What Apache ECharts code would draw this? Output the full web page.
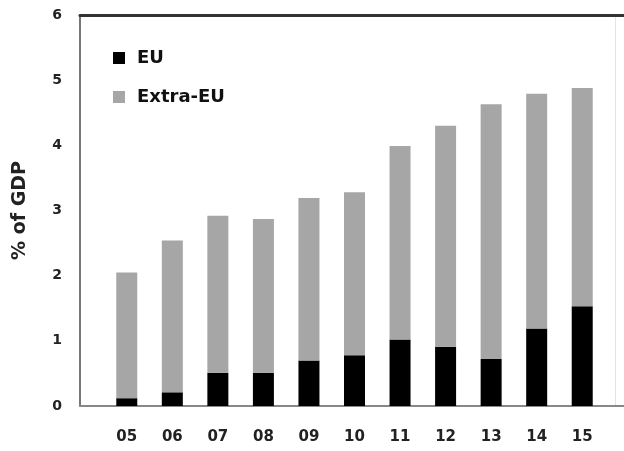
<!DOCTYPE html>
<html><head><meta charset="utf-8">
<script src="https://cdn.jsdelivr.net/npm/echarts@6/dist/echarts.min.js"></script>
<style>html,body{margin:0;padding:0;background:#fff}#c{width:624px;height:451px}</style>
</head><body><div id="c"></div>
<script>
const categories = ['05','06','07','08','09','10','11','12','13','14','15'];
const euValues = [0.12,0.21,0.51,0.51,0.70,0.78,1.02,0.91,0.72,1.19,1.53];
const extraEuValues = [1.93,2.33,2.41,2.36,2.49,2.50,2.97,3.39,3.91,3.60,3.35];
const yTicks = [0,1,2,3,4,5,6];

const font = 'DejaVu Sans, sans-serif';
const chart = echarts.init(document.getElementById('c'));
chart.setOption({
  animation: false,
  backgroundColor: '#fff',
  legend: {
    orient: 'vertical', left: 108, top: 44,
    itemWidth: 12, itemHeight: 12, itemGap: 21,
    icon: 'rect',
    textStyle: {fontFamily: font, fontSize: 18, fontWeight: 'bold', color: '#111', padding: [0,0,0,7]},
    data: ['EU','Extra-EU']
  },
  grid: [
    {left: 80, right: 0, top: 15, bottom: 45},
    {left: 104, right: 19, top: 15, bottom: 45}
  ],
  xAxis: [
    {gridIndex: 0, type: 'category', data: categories, position: 'top',
     axisLine: {show: true, onZero: false, lineStyle: {color: '#333', width: 3}},
     axisTick: {show: false}, axisLabel: {show: false}},
    {gridIndex: 0, type: 'category', data: categories, position: 'bottom',
     axisLine: {show: true, onZero: false, lineStyle: {color: '#888', width: 2}},
     axisTick: {show: false}, axisLabel: {show: false}},
    {gridIndex: 1, type: 'category', data: categories,
     axisLine: {show: false}, axisTick: {show: false},
     axisLabel: {fontFamily: font, fontSize: 15, fontWeight: 'bold', color: '#222', margin: 24}}
  ],
  yAxis: [
    {gridIndex: 0, type: 'value', min: 0, max: 6, interval: 1,
     axisLine: {show: true, onZero: false, lineStyle: {color: '#777', width: 2}},
     axisTick: {show: false}, splitLine: {show: false},
     axisLabel: {fontFamily: font, fontSize: 14, fontWeight: 'bold', color: '#222', margin: 18,
       formatter: v => yTicks.includes(v) ? String(v) : ''},
     name: '% of GDP', nameLocation: 'middle', nameGap: 50, nameRotate: 90,
     nameTextStyle: {fontFamily: font, fontSize: 19, fontWeight: 'bold', color: '#222'}},
    {gridIndex: 0, type: 'value', min: 0, max: 6, interval: 1, position: 'right', offset: -9,
     axisLine: {show: true, onZero: false, lineStyle: {color: '#e4e4e4', width: 1}},
     axisTick: {show: false}, axisLabel: {show: false}, splitLine: {show: false}},
    {gridIndex: 1, type: 'value', min: 0, max: 6, interval: 1, show: false}
  ],
  series: [
    {name: 'EU', type: 'bar', stack: 't', xAxisIndex: 2, yAxisIndex: 2,
     barWidth: 21, itemStyle: {color: '#000'}, data: euValues},
    {name: 'Extra-EU', type: 'bar', stack: 't', xAxisIndex: 2, yAxisIndex: 2,
     barWidth: 21, itemStyle: {color: '#a6a6a6'}, data: extraEuValues}
  ]
});
</script></body></html>
